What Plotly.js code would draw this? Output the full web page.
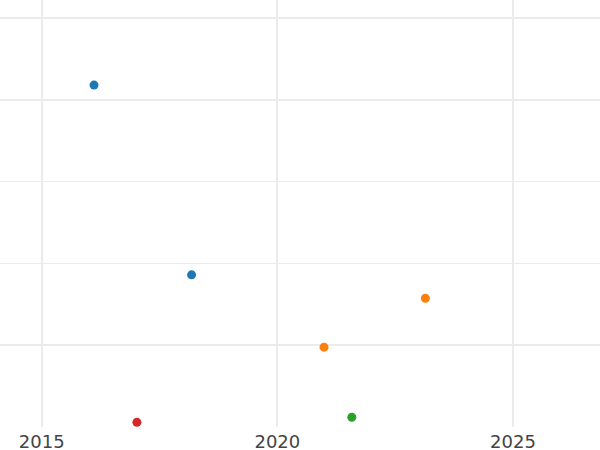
<!DOCTYPE html>
<html>
<head>
<meta charset="utf-8">
<script src="https://cdn.plot.ly/plotly-3.0.1.min.js"></script>
<style>html,body{margin:0;padding:0;background:#fff}#chart{width:600px;height:450px}</style>
</head>
<body>
<div id="chart"></div>
<script>
const seriesNames = ["A", "B", "C", "D"];
const seriesX = [
  [2016.11, 2018.18],
  [2020.99, 2023.14],
  [2021.58],
  [2017.02]
];
const seriesY = [
  [41.8, 18.6],
  [9.76, 15.74],
  [1.19],
  [0.57]
];
const colors = ["#1f77b4", "#ff7f0e", "#2ca02c", "#d62728"];
const xTickVals = [2015, 2020, 2025];
const xTickText = ["2015", "2020", "2025"];

const traces = seriesNames.map((n, i) => ({
  type: "scatter",
  mode: "markers",
  name: n,
  x: seriesX[i],
  y: seriesY[i],
  marker: {color: colors[i], size: 9}
}));

const layout = {
  width: 600, height: 450,
  margin: {l: 0, r: 0, t: 0, b: 23, pad: 0},
  paper_bgcolor: "#fff", plot_bgcolor: "#fff",
  showlegend: false,
  font: {family: "DejaVu Sans", color: "#444"},
  xaxis: {
    range: [2014.115, 2026.846],
    tickvals: xTickVals, ticktext: xTickText,
    showgrid: true, gridcolor: "#ebebeb", gridwidth: 2,
    zeroline: false, showline: false, ticks: "",
    ticklabelstandoff: 2,
    tickfont: {size: 18, color: "#444"}
  },
  yaxis: {
    range: [0, 52.2],
    dtick: 10, tick0: 0,
    showticklabels: false,
    showgrid: true, gridcolor: "#ebebeb", gridwidth: 1.5,
    zeroline: false, showline: false, ticks: ""
  }
};
Plotly.newPlot("chart", traces, layout, {displayModeBar: false, staticPlot: true});
</script>
</body>
</html>
